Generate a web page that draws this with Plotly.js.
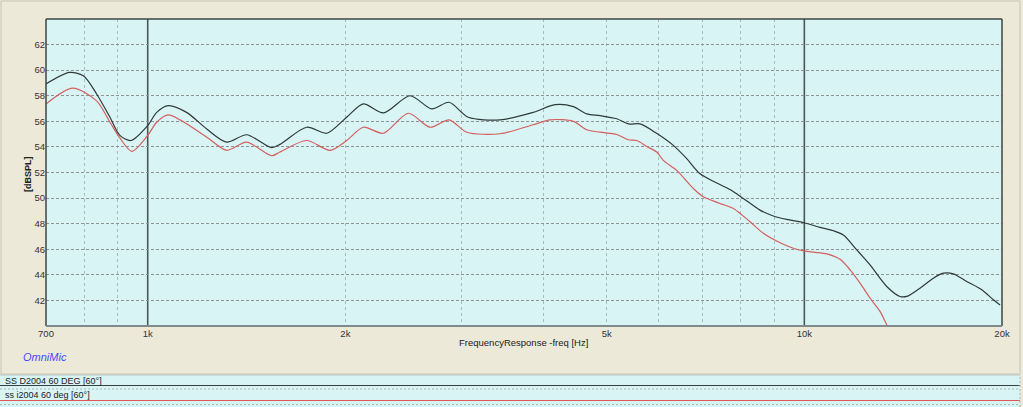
<!DOCTYPE html>
<html>
<head>
<meta charset="utf-8">
<script src="https://cdn.plot.ly/plotly-3.0.1.min.js"></script>
<style>
  html, body { margin: 0; padding: 0; background: #ece9d8; }
  #chart { width: 1023px; height: 407px; }
</style>
</head>
<body>
<div id="chart"></div>
<script>
// ---- data ----
const nameBlack = "SS D2004 60 DEG [60°]";
const freqBlack = [700, 760, 798, 836, 876, 907, 943, 1000, 1032, 1075, 1146, 1230, 1319, 1415, 1544, 1590,
  1746, 1874, 2009, 2130, 2285, 2509, 2708, 2877, 3078, 3440, 3863, 4172, 4449, 4663, 4885, 5180, 5395,
  5620, 5924, 6317, 6621, 6937, 7355, 7706, 8074, 8560, 8970, 9402, 9991, 10567, 11072, 11467, 12019,
  12590, 13350, 13986, 14319, 15002, 15721, 16281, 16861, 17673, 18631, 19404, 19867];
const splBlack = [58.92, 59.82, 59.56, 58.14, 56.32, 54.9, 54.5, 55.67, 56.7, 57.23, 56.7, 55.4, 54.37, 54.95, 53.94, 54.2,
  55.54, 55.07, 56.32, 57.36, 56.66, 58.0, 56.97, 57.49, 56.32, 56.12, 56.7, 57.3, 57.15, 56.58, 56.45, 56.2, 55.8,
  55.8, 55.15, 54.12, 53.08, 51.9, 51.18, 50.67, 49.97, 49.06, 48.6, 48.33, 48.07, 47.71, 47.45, 47.11, 45.95,
  44.78, 43.09, 42.31, 42.31, 42.96, 43.74, 44.13, 44.08, 43.48, 42.83, 42.05, 41.64];

const nameRed = "ss i2004 60 deg [60°]";
const freqRed = [700, 769, 836, 876, 907, 946, 1000, 1032, 1075, 1230, 1319, 1415, 1544, 1590, 1746, 1895,
  2009, 2130, 2285, 2494, 2692, 2877, 3061, 3440, 3863, 4100, 4449, 4663, 4885, 5180, 5395, 5556, 5754,
  5959, 6098, 6393, 6776, 7017, 7440, 7796, 8266, 8660, 9186, 9621, 9991, 10322, 10819, 11335, 11740,
  12159, 12590, 13040, 13350, 13700];
const splRed = [57.36, 58.6, 57.6, 55.93, 54.7, 53.65, 54.9, 55.93, 56.5, 54.76, 53.73, 54.37, 53.31, 53.6, 54.5, 53.73,
  54.5, 55.54, 55.07, 56.63, 55.54, 56.12, 55.15, 55.03, 55.73, 56.12, 56.0, 55.34, 55.15, 54.97, 54.56, 54.5, 54.04,
  53.6, 52.95, 52.17, 50.75, 50.1, 49.58, 49.19, 48.15, 47.25, 46.51, 46.08, 45.87, 45.77, 45.64, 45.22, 44.39,
  43.35, 42.19, 41.14, 40.1, 39.0];

const xTickVals = [700, 1000, 2000, 5000, 10000, 20000];
const xTickText = ["700", "1k", "2k", "5k", "10k", "20k"];
const xMinorVals = [800, 900, 2000, 3000, 4000, 5000, 6000, 7000, 8000, 9000];
const xDecadeLines = [1000, 10000];
const yTickVals = [42, 44, 46, 48, 50, 52, 54, 56, 58, 60, 62];
const xRange = [700, 20000];
const yRange = [40, 64];

// ---- layout helpers (plot area: x 46..1002, y 19..326 px) ----
const L = 46, R = 1002, T = 19, B = 326;
const px = x => (x - L) / (R - L);
const py = y => (B - y) / (B - T);

const traces = [
  { x: freqBlack, y: splBlack, name: nameBlack, type: 'scatter', mode: 'lines',
    line: { color: '#2f3a3a', width: 1.2, shape: 'spline', smoothing: 0.8 }, hoverinfo: 'skip' },
  { x: freqRed, y: splRed, name: nameRed, type: 'scatter', mode: 'lines',
    line: { color: '#d45f5f', width: 1.2, shape: 'spline', smoothing: 0.8 }, hoverinfo: 'skip' }
];

const shapes = [];
// outer beige frame
shapes.push({ type: 'rect', xref: 'paper', yref: 'paper', x0: px(1), x1: px(1020), y0: py(374), y1: py(1),
  line: { color: '#c9c5b4', width: 1 }, fillcolor: 'rgba(0,0,0,0)', layer: 'below' });
// decade lines at 1k and 10k
xDecadeLines.forEach(v => shapes.push({ type: 'line', xref: 'x', yref: 'paper', x0: v, x1: v, y0: 0, y1: 1,
  line: { color: '#4c5656', width: 1.6 }, layer: 'below' }));
// plot frame
shapes.push({ type: 'line', xref: 'paper', yref: 'paper', x0: 0, x1: 0, y0: 0, y1: 1, line: { color: '#3c4646', width: 1.5 } });
shapes.push({ type: 'line', xref: 'paper', yref: 'paper', x0: 0, x1: 1, y0: 1, y1: 1, line: { color: '#3c4646', width: 1.5 } });
shapes.push({ type: 'line', xref: 'paper', yref: 'paper', x0: 1, x1: 1, y0: 0, y1: 1, line: { color: '#3c4646', width: 1.5 } });
shapes.push({ type: 'line', xref: 'paper', yref: 'paper', x0: 0, x1: 1, y0: 0, y1: 0, line: { color: '#7f8c8c', width: 2 } });
// legend strips at the bottom
shapes.push({ type: 'rect', xref: 'paper', yref: 'paper', x0: px(0), x1: px(1020), y0: py(407), y1: py(375),
  line: { width: 0 }, fillcolor: '#d8f4f4' });
shapes.push({ type: 'line', xref: 'paper', yref: 'paper', x0: px(0), x1: px(1020), y0: py(375), y1: py(375),
  line: { color: '#b9c4c4', width: 1 } });
shapes.push({ type: 'line', xref: 'paper', yref: 'paper', x0: px(0), x1: px(1020), y0: py(385.5), y1: py(385.5),
  line: { color: '#3a4040', width: 1.2 } });
shapes.push({ type: 'line', xref: 'paper', yref: 'paper', x0: px(0), x1: px(1020), y0: py(389), y1: py(389),
  line: { color: '#a8b4b4', width: 1, dash: '2px,2px' } });
shapes.push({ type: 'line', xref: 'paper', yref: 'paper', x0: px(0), x1: px(1020), y0: py(400.5), y1: py(400.5),
  line: { color: '#e05a5a', width: 1.2 } });
shapes.push({ type: 'line', xref: 'paper', yref: 'paper', x0: px(0), x1: px(1020), y0: py(404.5), y1: py(404.5),
  line: { color: '#a8b4b4', width: 1, dash: '2px,2px' } });
shapes.push({ type: 'line', xref: 'paper', yref: 'paper', x0: px(1020), x1: px(1020), y0: py(407), y1: py(375),
  line: { color: '#a8b4b4', width: 1, dash: '2px,2px' } });

const fontFam = 'Arial, "Liberation Sans", sans-serif';
const annotations = [
  { text: '[dBSPL]', xref: 'paper', yref: 'paper', x: px(28), y: py(174), textangle: -90, showarrow: false,
    xanchor: 'center', yanchor: 'middle', font: { family: fontFam, size: 9, color: '#222', weight: 'bold' } },
  { text: 'FrequencyResponse -freq [Hz]', xref: 'paper', yref: 'paper', x: px(523), y: py(342), showarrow: false,
    xanchor: 'center', yanchor: 'middle', font: { family: fontFam, size: 9.5, color: '#222' } },
  { text: 'OmniMic', xref: 'paper', yref: 'paper', x: px(45), y: py(357), showarrow: false,
    xanchor: 'center', yanchor: 'middle', font: { family: fontFam, size: 11, color: '#4a4aff', style: 'italic' } },
  { text: nameBlack, xref: 'paper', yref: 'paper', x: px(3), y: py(381), showarrow: false,
    xanchor: 'left', yanchor: 'middle', font: { family: fontFam, size: 9, color: '#222' } },
  { text: nameRed, xref: 'paper', yref: 'paper', x: px(3), y: py(395.5), showarrow: false,
    xanchor: 'left', yanchor: 'middle', font: { family: fontFam, size: 9, color: '#222' } }
];

const layout = {
  width: 1023, height: 407, autosize: false,
  margin: { l: L, r: 1023 - R, t: T, b: 407 - B, pad: 0 },
  paper_bgcolor: '#ece9d8', plot_bgcolor: '#d8f4f4',
  showlegend: false,
  font: { family: fontFam, size: 9, color: '#333' },
  xaxis: {
    type: 'log', range: xRange.map(Math.log10), tickmode: 'array', tickvals: xTickVals, ticktext: xTickText,
    showgrid: false,
    minor: { tickmode: 'array', tickvals: xMinorVals, showgrid: true, gridcolor: '#a9bcbc', griddash: 'dot', gridwidth: 1, ticks: '' },
    ticks: '', zeroline: false, showline: false, tickfont: { size: 9.5, color: '#333' }
  },
  yaxis: {
    range: yRange, tickmode: 'array', tickvals: yTickVals,
    showgrid: true, gridcolor: '#8e9494', griddash: '3px,2px', gridwidth: 1,
    ticks: '', zeroline: false, showline: false, tickfont: { size: 9.5, color: '#333' }
  },
  shapes: shapes,
  annotations: annotations
};

Plotly.newPlot('chart', traces, layout, { displayModeBar: false, staticPlot: true });
</script>
</body>
</html>
